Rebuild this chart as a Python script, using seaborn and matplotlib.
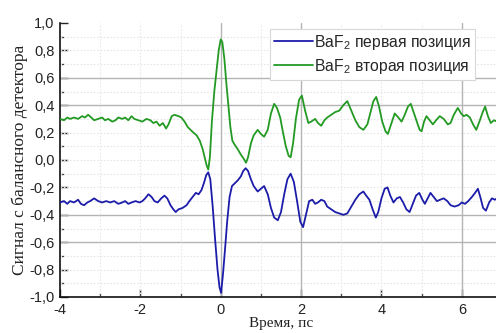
import matplotlib
matplotlib.use("Agg")
import matplotlib.pyplot as plt
from matplotlib.ticker import MultipleLocator, FuncFormatter
import pandas as pd
import seaborn as sns

# BaF2, first position (time in ps, balanced detector signal)
t_first = [-4.00, -3.90, -3.82, -3.75, -3.65, -3.55, -3.48, -3.40, -3.32, -3.25,
           -3.15, -3.05, -2.95, -2.85, -2.75, -2.65, -2.55, -2.45, -2.38, -2.30,
           -2.22, -2.12, -2.02, -1.95, -1.88, -1.80, -1.72, -1.65, -1.57, -1.48,
           -1.40, -1.33, -1.25, -1.18, -1.12, -1.05, -0.95, -0.85, -0.78, -0.70,
           -0.62, -0.55, -0.48, -0.42, -0.36, -0.31, -0.26, -0.20, -0.14, -0.08,
           -0.03, 0.01, 0.06, 0.11, 0.16, 0.22, 0.28, 0.35, 0.42, 0.50,
           0.56, 0.62, 0.68, 0.75, 0.82, 0.92, 1.00, 1.08, 1.17, 1.25,
           1.33, 1.42, 1.50, 1.58, 1.66, 1.74, 1.82, 1.90, 1.98, 2.05,
           2.12, 2.20, 2.28, 2.35, 2.42, 2.50, 2.58, 2.65, 2.75, 2.85,
           2.95, 3.05, 3.15, 3.25, 3.35, 3.45, 3.55, 3.62, 3.70, 3.78,
           3.86, 3.92, 4.00, 4.08, 4.15, 4.22, 4.30, 4.38, 4.46, 4.54,
           4.62, 4.70, 4.78, 4.86, 4.94, 5.02, 5.08, 5.15, 5.22, 5.30,
           5.38, 5.46, 5.55, 5.64, 5.72, 5.82, 5.92, 6.00, 6.08, 6.16,
           6.25, 6.33, 6.40, 6.46, 6.53, 6.60, 6.68, 6.75, 6.82, 6.88]
s_first = [-0.31, -0.30, -0.32, -0.30, -0.31, -0.29, -0.32, -0.33, -0.31, -0.30,
           -0.28, -0.30, -0.31, -0.30, -0.31, -0.30, -0.32, -0.31, -0.30, -0.32,
           -0.31, -0.30, -0.31, -0.30, -0.28, -0.25, -0.27, -0.30, -0.31, -0.28,
           -0.26, -0.28, -0.33, -0.36, -0.38, -0.36, -0.35, -0.33, -0.30, -0.27,
           -0.24, -0.25, -0.22, -0.17, -0.11, -0.09, -0.14, -0.34, -0.58, -0.80,
           -0.93, -0.97, -0.82, -0.64, -0.45, -0.27, -0.19, -0.17, -0.15, -0.12,
           -0.08, -0.06, -0.08, -0.14, -0.19, -0.23, -0.21, -0.19, -0.25, -0.35,
           -0.42, -0.44, -0.38, -0.25, -0.14, -0.10, -0.16, -0.30, -0.45, -0.49,
           -0.40, -0.30, -0.29, -0.32, -0.31, -0.29, -0.30, -0.34, -0.36, -0.38,
           -0.39, -0.40, -0.39, -0.34, -0.29, -0.25, -0.23, -0.26, -0.29, -0.36,
           -0.42, -0.38, -0.28, -0.21, -0.20, -0.26, -0.31, -0.28, -0.27, -0.31,
           -0.36, -0.38, -0.32, -0.26, -0.24, -0.29, -0.32, -0.28, -0.24, -0.27,
           -0.30, -0.29, -0.28, -0.30, -0.33, -0.34, -0.33, -0.31, -0.32, -0.30,
           -0.27, -0.24, -0.21, -0.27, -0.35, -0.37, -0.31, -0.28, -0.29, -0.28]

# BaF2, second position
t_second = [-4.00, -3.90, -3.82, -3.75, -3.65, -3.55, -3.45, -3.38, -3.30, -3.22,
            -3.15, -3.05, -2.95, -2.88, -2.80, -2.70, -2.62, -2.55, -2.45, -2.38,
            -2.30, -2.22, -2.15, -2.05, -1.95, -1.85, -1.75, -1.68, -1.60, -1.52,
            -1.44, -1.36, -1.30, -1.22, -1.15, -1.05, -0.98, -0.90, -0.82, -0.75,
            -0.68, -0.60, -0.52, -0.45, -0.40, -0.35, -0.31, -0.27, -0.22, -0.16,
            -0.10, -0.05, 0.00, 0.04, 0.09, 0.14, 0.19, 0.24, 0.29, 0.35,
            0.42, 0.50, 0.57, 0.63, 0.68, 0.75, 0.82, 0.92, 1.00, 1.08,
            1.17, 1.25, 1.33, 1.40, 1.48, 1.55, 1.62, 1.69, 1.74, 1.80,
            1.87, 1.95, 2.02, 2.10, 2.18, 2.25, 2.35, 2.42, 2.50, 2.58,
            2.65, 2.75, 2.85, 2.95, 3.05, 3.15, 3.25, 3.35, 3.45, 3.55,
            3.65, 3.72, 3.80, 3.87, 3.94, 4.02, 4.10, 4.16, 4.25, 4.33,
            4.42, 4.50, 4.58, 4.66, 4.73, 4.80, 4.88, 4.95, 5.00, 5.06,
            5.12, 5.20, 5.28, 5.36, 5.45, 5.55, 5.65, 5.72, 5.80, 5.90,
            5.98, 6.05, 6.12, 6.20, 6.28, 6.36, 6.45, 6.52, 6.58, 6.65,
            6.72, 6.80, 6.88]
s_second = [0.30, 0.29, 0.31, 0.30, 0.31, 0.30, 0.32, 0.31, 0.33, 0.31,
            0.29, 0.30, 0.31, 0.29, 0.30, 0.28, 0.29, 0.31, 0.30, 0.31,
            0.29, 0.32, 0.30, 0.29, 0.28, 0.30, 0.29, 0.27, 0.28, 0.25,
            0.27, 0.23, 0.26, 0.32, 0.33, 0.32, 0.31, 0.28, 0.24, 0.22,
            0.20, 0.18, 0.14, 0.08, 0.02, -0.04, -0.07, 0.02, 0.28, 0.50,
            0.66, 0.80, 0.88, 0.86, 0.74, 0.56, 0.40, 0.24, 0.14, 0.11,
            0.08, 0.04, 0.01, -0.02, 0.02, 0.12, 0.18, 0.22, 0.19, 0.17,
            0.22, 0.34, 0.41, 0.38, 0.31, 0.20, 0.10, 0.03, 0.02, 0.12,
            0.30, 0.44, 0.47, 0.36, 0.27, 0.28, 0.30, 0.27, 0.25, 0.29,
            0.31, 0.33, 0.35, 0.36, 0.40, 0.43, 0.36, 0.29, 0.24, 0.22,
            0.26, 0.34, 0.43, 0.46, 0.39, 0.28, 0.21, 0.19, 0.27, 0.34,
            0.31, 0.28, 0.33, 0.39, 0.41, 0.35, 0.28, 0.22, 0.21, 0.28,
            0.32, 0.29, 0.26, 0.29, 0.32, 0.30, 0.26, 0.27, 0.33, 0.38,
            0.34, 0.32, 0.33, 0.31, 0.26, 0.22, 0.29, 0.35, 0.39, 0.32,
            0.27, 0.29, 0.28]

label_first = "BaF$\\mathregular{_2}$ первая позиция"
label_second = "BaF$\\mathregular{_2}$ вторая позиция"
x_title = "Время, пс"
y_title = "Сигнал с балансного детектора"

sns.set_theme(style="white")
plt.rcParams["font.family"] = ["Liberation Sans", "DejaVu Sans"]
plt.rcParams["mathtext.fontset"] = "custom"
plt.rcParams["mathtext.rm"] = "Liberation Sans"

fig = plt.figure(figsize=(4.96, 3.33), dpi=100)
ax = fig.add_axes([60 / 496, 36 / 333, 442 / 496, 274 / 333])

df1 = pd.DataFrame({"t": t_first, "s": s_first})
df2 = pd.DataFrame({"t": t_second, "s": s_second})
sns.lineplot(data=df1, x="t", y="s", ax=ax, color="#1c1caa", lw=1.3,
             label=label_first, zorder=4)
sns.lineplot(data=df2, x="t", y="s", ax=ax, color="#239a23", lw=1.3,
             label=label_second, zorder=3)

ax.set_xlim(-4, 7)
ax.set_ylim(-1.0, 1.0)

# light dotted grid on every division, heavier reference lines on a few
for yv in [i / 10 for i in range(-9, 10)]:
    if round(abs(yv), 1) in (0.4, 0.6):
        ax.axhline(yv, color="#b4b4b4", lw=1.0, zorder=1)
    else:
        ax.axhline(yv, color="#e6e6e6", lw=0.8, ls=(0, (1.5, 1.5)), zorder=1)
for xv in range(-3, 7):
    if xv in (0, 2, 6):
        ax.axvline(xv, color="#b4b4b4", lw=1.0, zorder=1)
    else:
        ax.axvline(xv, color="#e8e8e8", lw=0.8, ls=(0, (1.5, 1.5)), zorder=1)

ax.xaxis.set_major_locator(MultipleLocator(2))
ax.xaxis.set_minor_locator(MultipleLocator(1))
ax.yaxis.set_major_locator(MultipleLocator(0.2))
ax.yaxis.set_minor_locator(MultipleLocator(0.1))
ax.xaxis.set_major_formatter(FuncFormatter(lambda v, p: f"{v:.0f}"))
ax.yaxis.set_major_formatter(FuncFormatter(lambda v, p: f"{v:.1f}".replace(".", ",")))
ax.tick_params(which="major", direction="in", length=6, width=1.0, color="#222222",
               labelsize=10.5, labelcolor="#222222", pad=4,
               bottom=True, left=True, top=False, right=False)
ax.tick_params(which="minor", direction="in", length=3, width=0.9, color="#222222",
               bottom=True, left=True, top=False, right=False)

for side in ("top", "right"):
    ax.spines[side].set_visible(False)
for side in ("left", "bottom"):
    ax.spines[side].set_color("#111111")
    ax.spines[side].set_linewidth(1.2)

ax.set_xlabel(x_title, family=["Liberation Serif", "DejaVu Serif"], fontsize=11,
              color="#222222", labelpad=0)
ax.set_ylabel(y_title, family=["Liberation Serif", "DejaVu Serif"], fontsize=12.5,
              color="#222222", labelpad=1)

leg = ax.legend(loc="upper left", bbox_to_anchor=(210 / 442, 1 - 6 / 274),
                fontsize=11.3, frameon=True, fancybox=False, framealpha=1,
                edgecolor="#d8d8d8", handlelength=2.5, handletextpad=0.05,
                borderpad=0.25, labelspacing=0.3, borderaxespad=0)
leg.get_frame().set_linewidth(0.8)
for line in leg.get_lines():
    line.set_linewidth(1.3)

fig.savefig("out.png", dpi=100)
